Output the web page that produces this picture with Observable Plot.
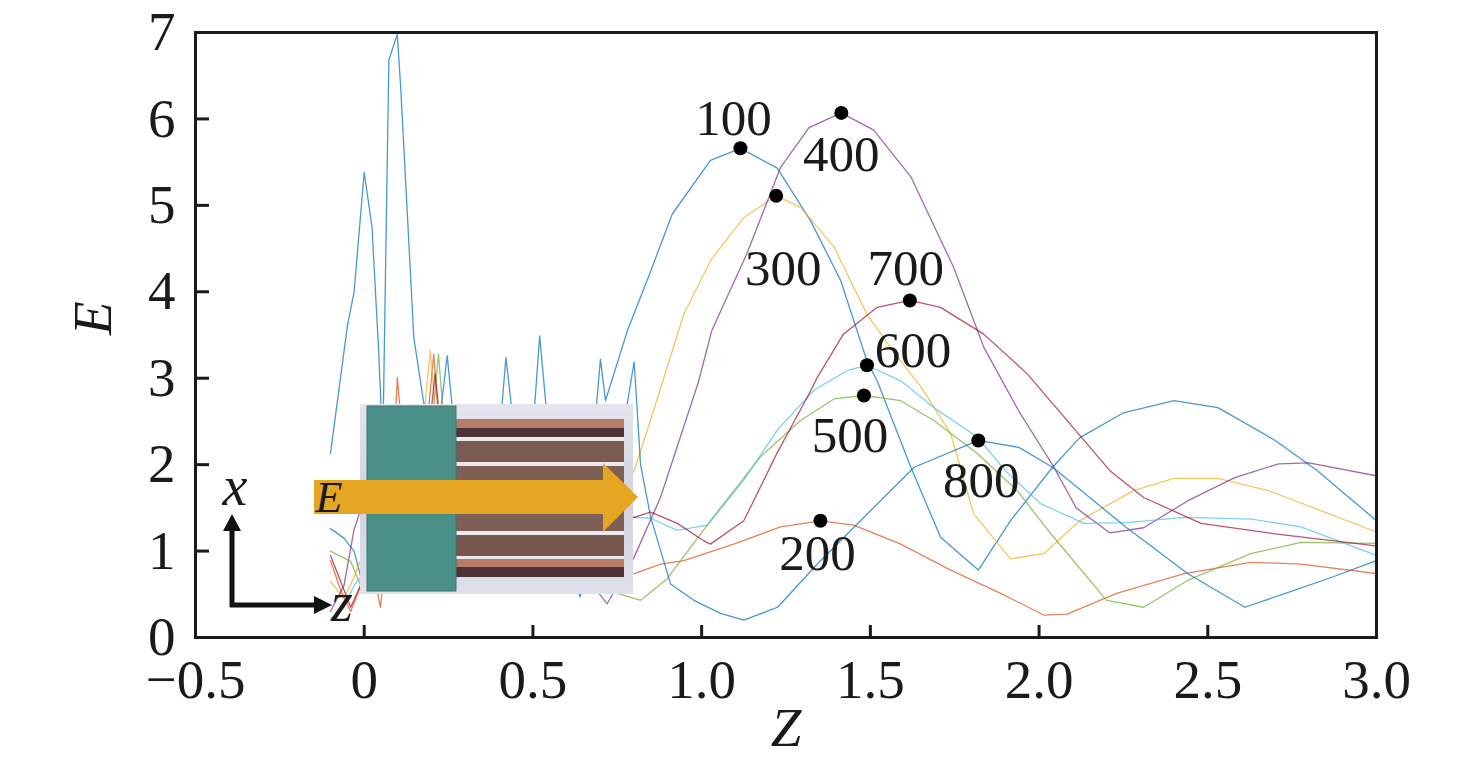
<!DOCTYPE html>
<html>
<head>
<meta charset="utf-8">
<script src="https://cdn.jsdelivr.net/npm/d3@7"></script>
<script src="https://cdn.jsdelivr.net/npm/@observablehq/plot@0.6"></script>
<style>
  body { margin: 0; background: white; }
  #chart { position: relative; width: 1476px; height: 780px; }
  #chart svg.overlay { position: absolute; left: 0; top: 0; pointer-events: none; }
</style>
</head>
<body>
<div id="chart"></div>
<script>
// series names and colours (MATLAB-like colour order)
const seriesNames = ["100", "200", "300", "400", "500", "600", "700", "800"];
const seriesColors = ["#0072BD", "#D95319", "#EDB120", "#7E2F8E", "#77AC30", "#4DBEEE", "#A2142F", "#0072BD"];

// [Z, E]
const s100 = [[-0.1,1.26],[-0.06,1.15],[-0.03,1.0],[-0.01,0.7],[0.05,1.2],[0.15,1.8],[0.22,2.4],[0.246,3.26],[0.27,2.3],[0.35,1.6],[0.4,2.3],[0.42,3.24],[0.45,2.2],[0.5,2.4],[0.52,3.49],[0.55,2.2],[0.62,1.5],[0.68,2.3],[0.7,3.22],[0.715,2.74],[0.78,3.55],[0.85,4.25],[0.913,4.9],[1.026,5.52],[1.115,5.66],[1.224,5.43],[1.323,4.82],[1.412,4.13],[1.49,3.2],[1.52,2.97],[1.62,1.97],[1.708,1.16],[1.82,0.78],[1.915,1.35],[2.04,1.97],[2.12,2.31],[2.25,2.6],[2.4,2.74],[2.53,2.66],[2.7,2.28],[2.825,1.93],[3.0,1.35]];
const s200 = [[-0.1,0.89],[-0.07,0.55],[-0.04,0.3],[-0.01,0.6],[0.02,0.9],[0.048,0.35],[0.08,1.5],[0.098,3.01],[0.12,2.0],[0.18,2.2],[0.206,3.28],[0.23,2.0],[0.35,1.2],[0.5,0.9],[0.65,0.8],[0.8,0.74],[0.879,0.85],[0.947,0.89],[1.095,1.08],[1.234,1.28],[1.352,1.35],[1.451,1.3],[1.59,1.08],[1.738,0.78],[1.886,0.51],[2.014,0.26],[2.083,0.27],[2.23,0.51],[2.43,0.74],[2.627,0.87],[2.776,0.85],[3.0,0.74]];
const s300 = [[-0.1,0.65],[-0.06,0.45],[-0.03,0.7],[0.0,1.0],[0.1,1.5],[0.17,2.3],[0.196,3.32],[0.215,2.4],[0.3,1.6],[0.5,1.2],[0.7,1.4],[0.8,1.93],[0.858,2.63],[0.947,3.74],[1.026,4.36],[1.125,4.86],[1.221,5.11],[1.293,4.98],[1.392,4.52],[1.49,3.74],[1.57,3.3],[1.65,2.9],[1.738,2.36],[1.806,1.43],[1.915,0.91],[2.014,0.97],[2.12,1.35],[2.28,1.7],[2.4,1.84],[2.53,1.84],[2.68,1.7],[3.0,1.22]];
const s400 = [[-0.1,0.3],[-0.06,0.6],[-0.03,1.25],[0.0,1.6],[0.1,1.2],[0.25,1.6],[0.4,1.0],[0.55,1.4],[0.65,0.8],[0.69,0.54],[0.72,0.39],[0.8,0.93],[0.878,1.62],[0.99,2.95],[1.03,3.55],[1.065,3.85],[1.134,4.44],[1.234,5.44],[1.318,5.9],[1.414,6.07],[1.51,5.87],[1.62,5.33],[1.747,4.28],[1.836,3.36],[1.94,2.62],[2.044,1.97],[2.11,1.5],[2.21,1.21],[2.31,1.27],[2.44,1.58],[2.58,1.85],[2.71,2.01],[2.8,2.02],[3.0,1.87]];
const s500 = [[-0.1,1.0],[-0.04,0.88],[-0.01,0.6],[0.05,1.0],[0.15,1.8],[0.2,2.4],[0.22,3.28],[0.24,2.3],[0.35,1.5],[0.5,1.0],[0.65,0.7],[0.75,0.51],[0.819,0.43],[0.898,0.68],[1.026,1.35],[1.174,2.09],[1.293,2.51],[1.392,2.76],[1.481,2.8],[1.59,2.74],[1.688,2.51],[1.817,2.13],[1.935,1.7],[2.035,1.2],[2.2,0.43],[2.31,0.35],[2.44,0.66],[2.627,0.97],[2.776,1.1],[3.0,1.09]];
const s600 = [[-0.1,0.22],[-0.06,0.35],[-0.03,0.6],[0.05,1.0],[0.2,1.5],[0.4,1.2],[0.6,1.3],[0.8,1.39],[0.849,1.38],[0.928,1.24],[1.017,1.3],[1.125,1.82],[1.224,2.4],[1.333,2.86],[1.432,3.09],[1.49,3.15],[1.59,2.97],[1.688,2.66],[1.817,2.32],[1.9,1.93],[2.004,1.55],[2.133,1.32],[2.26,1.33],[2.43,1.39],[2.63,1.37],[2.776,1.28],[3.0,0.95]];
const s700 = [[-0.1,0.95],[-0.07,0.65],[-0.04,0.35],[0.0,0.7],[0.1,1.5],[0.19,2.3],[0.21,3.05],[0.23,2.3],[0.4,1.8],[0.6,1.5],[0.8,1.39],[0.849,1.45],[0.928,1.32],[1.006,1.12],[1.026,1.08],[1.125,1.35],[1.223,2.13],[1.313,2.78],[1.343,3.01],[1.42,3.51],[1.52,3.82],[1.617,3.9],[1.708,3.82],[1.836,3.51],[1.965,3.05],[2.21,1.93],[2.31,1.62],[2.48,1.32],[2.7,1.2],[3.0,1.06]];
const s800 = [[-0.1,2.13],[-0.05,3.6],[-0.03,4.0],[0.0,5.38],[0.023,4.75],[0.043,3.3],[0.055,2.2],[0.073,6.68],[0.098,6.98],[0.108,6.37],[0.147,3.47],[0.177,2.7],[0.2,1.8],[0.3,1.5],[0.4,2.0],[0.5,1.5],[0.6,0.9],[0.64,0.47],[0.68,1.2],[0.775,2.6],[0.8,3.19],[0.819,2.0],[0.849,1.39],[0.908,0.62],[0.977,0.43],[1.056,0.28],[1.125,0.2],[1.225,0.35],[1.343,0.85],[1.45,1.27],[1.63,1.97],[1.82,2.28],[1.94,2.2],[2.04,1.97],[2.26,1.27],[2.44,0.74],[2.61,0.35],[2.73,0.51],[2.87,0.7],[3.0,0.89]];
const seriesData = [s100, s200, s300, s400, s500, s600, s700, s800];

// marked maxima
const peakZ = [1.115, 1.352, 1.221, 1.414, 1.481, 1.49, 1.617, 1.82];
const peakE = [5.66, 1.35, 5.11, 6.07, 2.8, 3.15, 3.9, 2.28];

const xTicks = [-0.5, 0, 0.5, 1.0, 1.5, 2.0, 2.5, 3.0];
const yTicks = [0, 1, 2, 3, 4, 5, 6, 7];

const rows = seriesData.flatMap((pts, i) => pts.map(([z, e]) => ({series: seriesNames[i], z, e})));
const peaks = seriesNames.map((name, i) => ({name, z: peakZ[i], e: peakE[i]}));

// label offset from its dot, px
const labelOffset = {
  "100": [-7, -30], "200": [-3, 33], "300": [7, 73], "400": [0, 42],
  "500": [-14, 40], "600": [46, -15], "700": [-4, -32], "800": [3, 40]
};

const W = 1476, H = 780;
const mL = 195, mR = 100, mT = 32, mB = 143;
const innerW = W - mL - mR, innerH = H - mT - mB;

const fmtX = d => d === 0 ? "0" : d < 0 ? "\u2212" + Math.abs(d).toFixed(1) : d.toFixed(1);

const plot = Plot.plot({
  width: W,
  height: H,
  marginLeft: mL,
  marginRight: mR,
  marginTop: mT,
  marginBottom: mB,
  style: {fontFamily: "'Liberation Serif', 'Times New Roman', serif", fontSize: "55px", color: "#1a1a1a", background: "white"},
  x: {domain: [-0.5, 3.0], label: null},
  y: {domain: [0, 7], label: null},
  color: {domain: seriesNames, range: seriesColors},
  marks: [
    Plot.line(rows, {x: "z", y: "e", z: "series", stroke: "series", strokeWidth: 1.3, strokeOpacity: 0.72, clip: true}),
    Plot.tickX(xTicks.slice(1, -1), {x: d => d, insetTop: innerH - 12, stroke: "#1a1a1a", strokeWidth: 3}),
    Plot.tickY(yTicks.slice(1, -1), {y: d => d, insetRight: innerW - 14, stroke: "#1a1a1a", strokeWidth: 3}),
    Plot.frame({stroke: "#1a1a1a", strokeWidth: 3}),
    Plot.axisX({ticks: xTicks, tickSize: 0, tickPadding: 21, tickFormat: fmtX, fontSize: 55, label: null}),
    Plot.axisY({ticks: yTicks, tickSize: 0, tickPadding: 20, tickFormat: d => String(d), fontSize: 55, label: null}),
    Plot.dot(peaks, {x: "z", y: "e", r: 7, fill: "black"}),
    ...peaks.map(p => Plot.text([p], {
      x: "z", y: "e", text: "name", fontSize: 51, fill: "#1a1a1a",
      dx: labelOffset[p.name][0], dy: labelOffset[p.name][1]
    })),
    Plot.text(["Z"], {frameAnchor: "bottom", dy: 108, fontStyle: "italic", fontSize: 55, fill: "#1a1a1a"}),
    Plot.text(["E"], {frameAnchor: "left", dx: -102, rotate: -90, fontStyle: "italic", fontSize: 55, fill: "#1a1a1a"})
  ]
});

const chart = document.querySelector("#chart");
chart.append(plot);

// inset illustration + axes glyph (decoration, drawn over the curves)
const stripes = [
  [419, 9, "#b67c68"], [428, 9, "#4d3337"], [437, 4, "#ece8ec"], [441, 21, "#7a5b52"],
  [462, 4, "#ece8ec"], [466, 65, "#7d5f55"], [531, 4, "#ece8ec"], [535, 21, "#77584f"],
  [556, 3, "#ece8ec"], [559, 8, "#b67c68"], [567, 10, "#4d3337"]
];
const overlay = `
<svg class="overlay" width="${W}" height="${H}" viewBox="0 0 ${W} ${H}" xmlns="http://www.w3.org/2000/svg">
  <defs>
    <linearGradient id="box" x1="0" y1="0" x2="0" y2="1">
      <stop offset="0" stop-color="#e4e5ee"/>
      <stop offset="0.5" stop-color="#cfd1de"/>
      <stop offset="1" stop-color="#dfe0ea"/>
    </linearGradient>
  </defs>
  <rect x="360" y="404" width="273" height="190" fill="url(#box)"/>
  <rect x="456" y="419" width="168" height="158" fill="#7a5b52"/>
  ${stripes.map(([y, h, c]) => `<rect x="456" y="${y}" width="168" height="${h}" fill="${c}"/>`).join("")}
  <rect x="367" y="406" width="89" height="185" fill="#4a9088" stroke="#3b746d" stroke-width="1"/>
  <polygon points="314,480 603,480 603,463 638,497 603,532 603,514 314,514" fill="#e5a623"/>
  <text x="329" y="497" dy="0.34em" text-anchor="middle" font-family="'Liberation Serif', serif" font-style="italic" font-size="44" fill="#1a1a1a">E</text>
  <path d="M232,607 V530" stroke="#111" stroke-width="5" fill="none"/>
  <polygon points="232,514 223,531 241,531" fill="#111"/>
  <path d="M230,605 H316" stroke="#111" stroke-width="5" fill="none"/>
  <polygon points="332,605 314,596 314,614" fill="#111"/>
  <text x="235" y="488" dy="0.3em" text-anchor="middle" font-family="'Liberation Serif', serif" font-style="italic" font-size="56" fill="#1a1a1a">x</text>
  <text x="342" y="604" dy="0.3em" text-anchor="middle" font-family="'Liberation Serif', serif" font-style="italic" font-size="56" fill="#1a1a1a">z</text>
</svg>`;
chart.insertAdjacentHTML("beforeend", overlay);
</script>
</body>
</html>
